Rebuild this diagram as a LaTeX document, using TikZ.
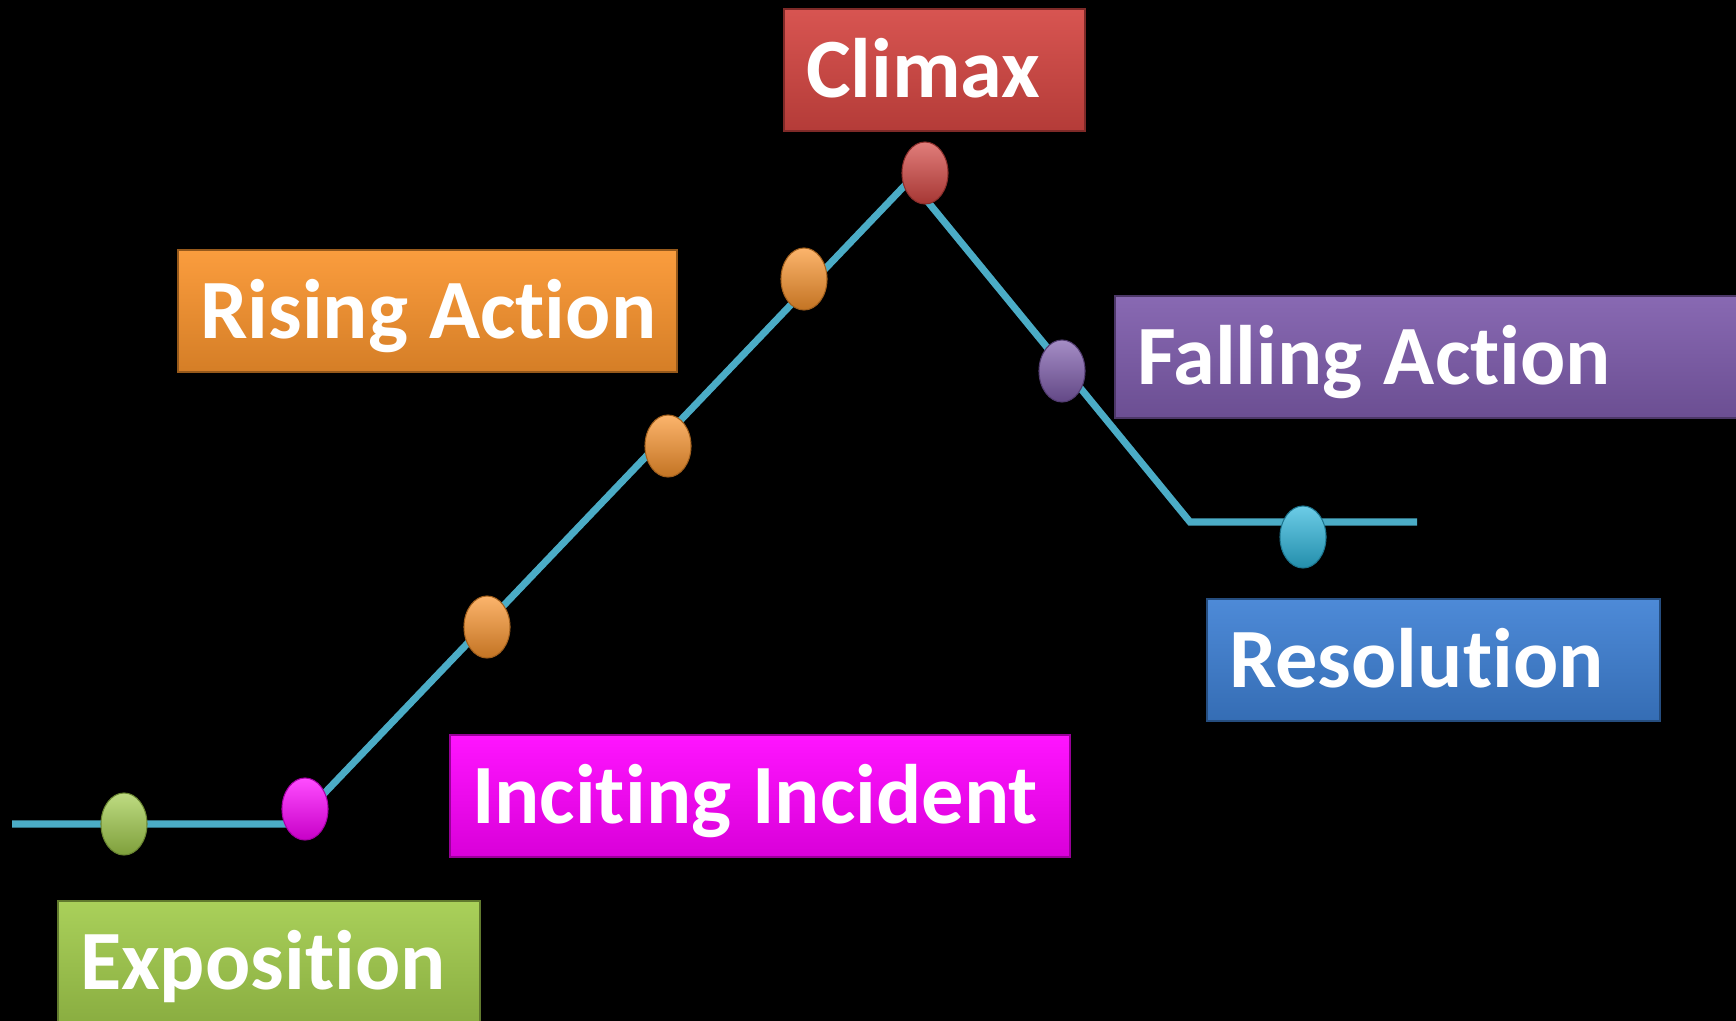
\documentclass[tikz,border=0pt]{standalone}
\usepackage{fontspec}
\setmainfont{Carlito}[Ligatures=NoCommon]
\usetikzlibrary{shapes.geometric}
\definecolor{plotline}{RGB}{75,172,198}
\definecolor{cRed}{RGB}{212,70,66}
\definecolor{cOrange}{RGB}{250,148,45}
\definecolor{cPurple}{RGB}{126,92,172}
\definecolor{cBlue}{RGB}{62,128,212}
\definecolor{cPink}{RGB}{255,0,255}
\definecolor{cGreen}{RGB}{162,204,76}
\definecolor{cCyan}{RGB}{45,182,220}
\tikzset{
  stage/.style={rectangle, anchor=north west, top color=#1!92!white, middle color=#1, bottom color=#1!85!black,
    draw=#1!60!black, line width=0.6pt, text=white, font=\fontsize{24}{28}\selectfont\bfseries,
    execute at begin node={\spaceskip=0.25em\relax},
    align=left, inner xsep=0.22cm, inner ysep=0pt, text height=0.55cm, text depth=0pt, minimum height=1.22cm},
  bead/.style={ellipse, minimum width=0.46cm, minimum height=0.62cm, inner sep=0pt,
    top color=#1!70!white, middle color=#1, bottom color=#1!78!black, draw=#1!65!black, line width=0.3pt}
}
\begin{document}
\begin{tikzpicture}[x=0.01cm, y=-0.01cm]
            \useasboundingbox (0,0) rectangle (1736,1021);
            \fill[black] (0,0) rectangle (1736,1021);
            % labels
            \node[stage=cRed, text width=2.57cm] (climax) at (783,8) {\mbox{Climax}};
            \node[stage=cOrange, text width=4.55cm] (rise) at (177,249) {\mbox{Rising Action}};
            \node[stage=cPurple, text width=5.78cm] (fall) at (1114,295) {\mbox{Falling Action}};
            \node[stage=cBlue, text width=4.09cm] (resol) at (1206,598) {\mbox{Resolution}};
            \node[stage=cPink, text width=5.76cm] (incite) at (449,734) {\mbox{Inciting Incident}};
            \node[stage=cGreen, text width=3.78cm] (expo) at (57,900) {\mbox{Exposition}};
            % plot line
            \coordinate (start) at (12,824);
            \coordinate (bendL) at (295,824);
            \coordinate (peak) at (910,180);
            \coordinate (bendR) at (1190,522);
            \coordinate (stop) at (1417,522);
            \draw[plotline, line width=2pt] (start) -- (bendL) -- (peak) -- (bendR) -- (stop);
            % beads
            \node[bead=cGreen] (b-expo) at (124,824) {};
            \node[bead=cPink] (b-incite) at (305,809) {};
            \node[bead=cOrange] (b-rise1) at (487,627) {};
            \node[bead=cOrange] (b-rise2) at (668,446) {};
            \node[bead=cOrange] (b-rise3) at (804,279) {};
            \node[bead=cRed] (b-climax) at (925,173) {};
            \node[bead=cPurple] (b-fall) at (1062,371) {};
            \node[bead=cCyan] (b-resol) at (1303,537) {};
        \end{tikzpicture}
\end{document}
